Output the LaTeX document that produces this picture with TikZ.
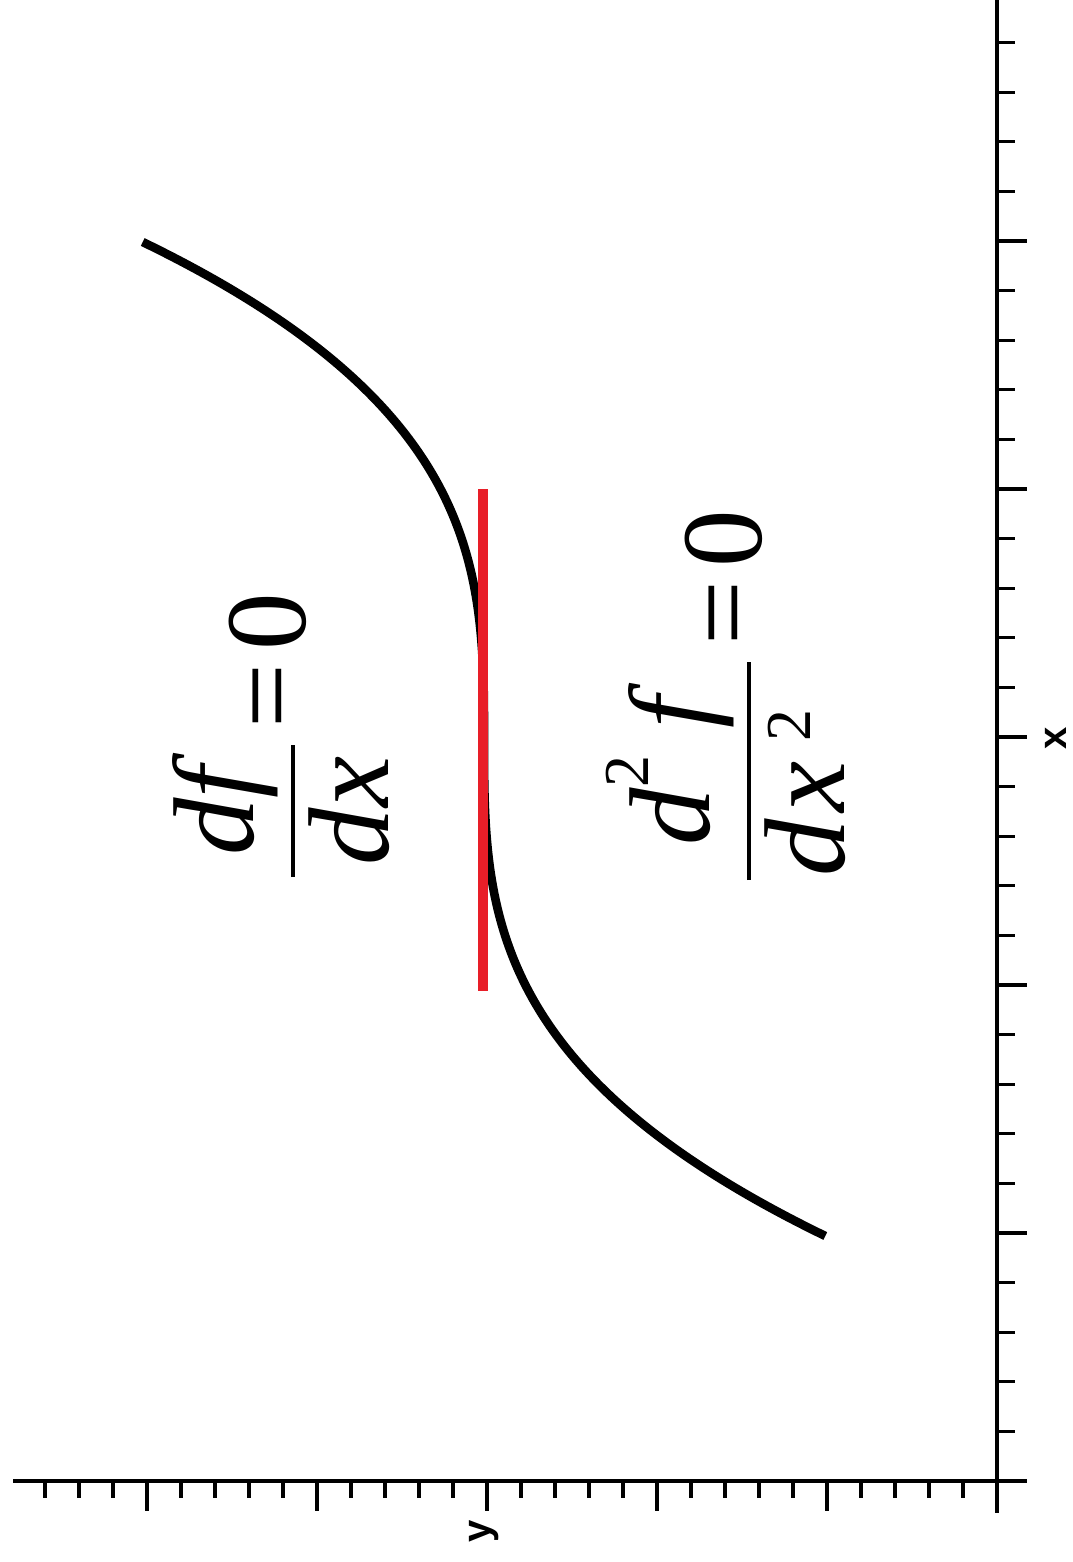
\documentclass[tikz,border=0pt]{standalone}
\usepackage{amsmath}
\usepackage{fontspec}
\setmainfont{Liberation Serif}
\setsansfont{Liberation Sans}
\definecolor{tanred}{RGB}{232,30,40}
\newcommand{\supnum}{\mbox{\fontsize{32}{36}\selectfont 2}}
\tikzset{
  axisline/.style={line width=1.8pt, black},
  tickline/.style={line width=1.6pt, black},
  curveline/.style={line width=4.3pt, black},
  tanline/.style={line width=4.8pt, tanred},
  eqlabel/.style={rotate=90, inner sep=0pt, font=\fontsize{57.5}{69}\selectfont},
  axlabel/.style={rotate=90, inner sep=0pt, font=\sffamily\bfseries\fontsize{20}{24}\selectfont}
}
\begin{document}
\begin{tikzpicture}[x=0.5pt,y=-0.5pt]
\useasboundingbox (0,0) rectangle (1072,1562);
% axes
\coordinate (xtop) at (997,0);
\coordinate (xbot) at (997,1513);
\coordinate (yleft) at (13,1481);
\coordinate (yright) at (1027,1481);
\draw[axisline] (xtop) -- (xbot);
\draw[axisline] (yleft) -- (yright);
% ticks on x axis (vertical)
\foreach \i in {1,...,29}{
  \pgfmathsetmacro{\len}{mod(\i,5)==0 ? 30 : 18}
  \draw[tickline] (997,{1481-49.6*\i}) -- ++(\len,0);
}
% ticks on y axis (horizontal)
\foreach \j in {1,...,28}{
  \pgfmathsetmacro{\len}{mod(\j,5)==0 ? 30 : 17}
  \draw[tickline] ({997-34*\j},1481) -- ++(0,\len);
}
% curve
\draw[curveline] plot[domain=4.97:-4.97, samples=160, smooth, variable=\s] ({484-2.78*\s*\s*\s},{739-100*\s});
% tangent line
\coordinate (ttop) at (483,489);
\coordinate (tbot) at (483,991);
\draw[tanline] (ttop) -- (tbot);
% equations
\node[eqlabel] (eq1) at (281,736) {$\displaystyle\genfrac{}{}{2.2pt}{0}{\makebox[66pt]{$\textit{df}$}}{\makebox[66pt]{$\textit{dx}$}}\mathrel{\text{=}}\text{0}$};
\node[eqlabel] (eq2) at (726,696) {$\displaystyle\genfrac{}{}{2.2pt}{0}{\makebox[109pt]{$\textit{d}^{\supnum}\hspace{13pt}\textit{f}$}}{\makebox[109pt][l]{\hspace{2pt}$\textit{d}\hspace{3pt}\textit{x}^{\hspace{10pt}\supnum}$}}\mathrel{\text{=}}\text{0}$};
% axis labels
\node[axlabel] (xlab) at (1056,738) {x};
\node[axlabel] (ylab) at (484,1531) {y};
\end{tikzpicture}
\end{document}
